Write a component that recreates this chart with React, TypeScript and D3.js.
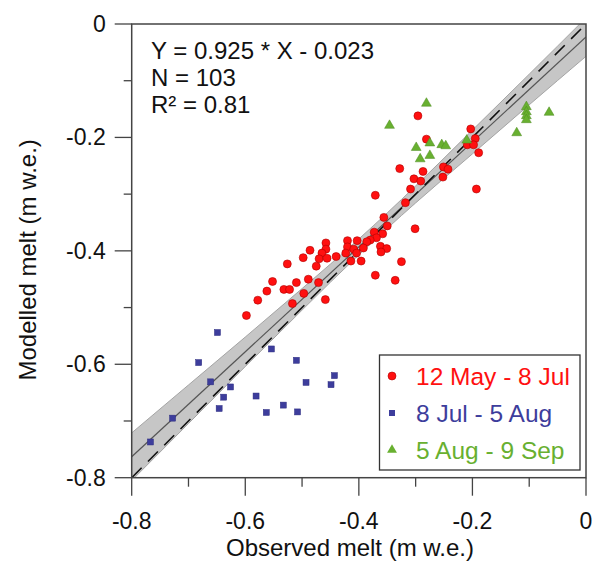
import React from "react";
import * as d3 from "d3";

// ---- data ----
const periodLabels = ["12 May - 8 Jul", "8 Jul - 5 Aug", "5 Aug - 9 Sep"];

const redX = [-0.296,-0.281,-0.203,-0.195,-0.209,-0.198,-0.189,-0.193,-0.328,-0.287,-0.303,-0.291,-0.251,-0.243,-0.252,-0.309,-0.318,-0.371,-0.301,-0.356,-0.350,-0.373,-0.358,-0.369,-0.380,-0.386,-0.362,-0.351,-0.361,-0.325,-0.336,-0.371,-0.403,-0.420,-0.420,-0.409,-0.404,-0.423,-0.414,-0.396,-0.392,-0.440,-0.458,-0.458,-0.465,-0.470,-0.456,-0.486,-0.498,-0.526,-0.475,-0.552,-0.562,-0.532,-0.522,-0.510,-0.489,-0.471,-0.497,-0.517,-0.459,-0.578,-0.598];
const redY = [-0.162,-0.203,-0.185,-0.202,-0.213,-0.213,-0.227,-0.291,-0.255,-0.260,-0.273,-0.277,-0.252,-0.256,-0.270,-0.291,-0.315,-0.302,-0.361,-0.341,-0.356,-0.367,-0.370,-0.377,-0.381,-0.384,-0.392,-0.396,-0.402,-0.419,-0.452,-0.443,-0.382,-0.382,-0.393,-0.397,-0.404,-0.404,-0.418,-0.418,-0.395,-0.410,-0.386,-0.397,-0.404,-0.414,-0.413,-0.399,-0.412,-0.423,-0.427,-0.454,-0.471,-0.468,-0.468,-0.456,-0.450,-0.456,-0.475,-0.493,-0.486,-0.487,-0.514];

const blueX = [-0.767,-0.728,-0.682,-0.649,-0.661,-0.646,-0.638,-0.626,-0.581,-0.563,-0.554,-0.533,-0.510,-0.508,-0.493,-0.449,-0.443];
const blueY = [-0.737,-0.695,-0.597,-0.544,-0.631,-0.678,-0.658,-0.640,-0.656,-0.685,-0.573,-0.672,-0.593,-0.684,-0.632,-0.636,-0.620];

const greenX = [-0.346,-0.281,-0.299,-0.292,-0.275,-0.275,-0.254,-0.247,-0.210,-0.122,-0.105,-0.105,-0.105,-0.105,-0.065];
const greenY = [-0.179,-0.140,-0.218,-0.238,-0.210,-0.232,-0.213,-0.215,-0.205,-0.192,-0.146,-0.155,-0.162,-0.169,-0.156];

const fitSlope = 0.925;
const fitIntercept = -0.023;
const bandX = [-0.8, -0.7, -0.6, -0.5, -0.4, -0.3, -0.2, -0.1, 0];
const bandHalf = [0.042, 0.034, 0.026, 0.019, 0.014, 0.015, 0.021, 0.027, 0.034];

const majorTicks = [-0.8, -0.6, -0.4, -0.2, 0];
const minorTicks = [-0.7, -0.5, -0.3, -0.1];
const tickLabels = ["-0.8", "-0.6", "-0.4", "-0.2", "0"];

const statLines = ["Y = 0.925 * X - 0.023", "N = 103", "R² = 0.81"];

const RED = "#ff1010";
const BLUE = "#3d3d9c";
const GREEN = "#68b030";
const FONT = "'Liberation Sans', Arial, Helvetica, sans-serif";

export default function App() {
  const W = 593, H = 564;
  const x = d3.scaleLinear().domain([-0.8, 0]).range([131.7, 586]);
  const y = d3.scaleLinear().domain([-0.8, 0]).range([477.7, 24]);

  const fit = (v: number) => fitSlope * v + fitIntercept;
  const bandArea = d3
    .area<number>()
    .x((_, i) => x(bandX[i]))
    .y0((v, i) => y(fit(bandX[i]) - bandHalf[i]))
    .y1((v, i) => y(fit(bandX[i]) + bandHalf[i]))
    .curve(d3.curveNatural);
  const bandUpper = d3.line<number>().x((_, i) => x(bandX[i])).y((_, i) => y(fit(bandX[i]) + bandHalf[i])).curve(d3.curveNatural);
  const bandLower = d3.line<number>().x((_, i) => x(bandX[i])).y((_, i) => y(fit(bandX[i]) - bandHalf[i])).curve(d3.curveNatural);

  const tri = d3.symbol().type(d3.symbolTriangle).size(42)() as string;
  const sq = 6;

  const fs = 23;
  const fsT = 24;
  const fsL = 24.5;
  const [x0, x1] = x.range();
  const [yB, yT] = y.range();

  return (
    <svg width={W} height={H} style={{ position: "absolute", left: 0, top: 0, background: "#fff" }} fontFamily={FONT}>
      <defs>
        <clipPath id="plot">
          <rect x={x0} y={yT} width={x1 - x0} height={yB - yT} />
        </clipPath>
      </defs>
      <g clipPath="url(#plot)">
        <path d={bandArea(bandX) as string} fill="#c6c6c6" />
        <path d={bandUpper(bandX) as string} fill="none" stroke="#a4a4a4" strokeWidth={1} />
        <path d={bandLower(bandX) as string} fill="none" stroke="#a4a4a4" strokeWidth={1} />
        <line x1={x(-0.8)} y1={y(fit(-0.8))} x2={x(0)} y2={y(fit(0))} stroke="#555" strokeWidth={1.2} />
        <line x1={x(-0.8)} y1={y(-0.8)} x2={x(0)} y2={y(0)} stroke="#111" strokeWidth={1.6} strokeDasharray="14,9" />
      </g>

      {blueX.map((v, i) => (
        <rect key={"b" + i} x={x(v) - sq / 2} y={y(blueY[i]) - sq / 2} width={sq} height={sq} fill={BLUE} stroke="#2c2c80" strokeWidth={0.5} />
      ))}
      {redX.map((v, i) => (
        <circle key={"r" + i} cx={x(v)} cy={y(redY[i])} r={4} fill={RED} stroke="#b00000" strokeWidth={0.6} />
      ))}
      {greenX.map((v, i) => (
        <path key={"g" + i} d={tri} transform={`translate(${x(v)},${y(greenY[i])})`} fill={GREEN} stroke="#4e8a20" strokeWidth={0.5} />
      ))}

      {/* frame */}
      <rect x={x0} y={yT} width={x1 - x0} height={yB - yT} fill="none" stroke="#444" strokeWidth={1.5} />

      {/* x ticks */}
      {majorTicks.map((t, i) => (
        <g key={"xt" + i}>
          <line x1={x(t)} x2={x(t)} y1={yB} y2={yB + 18} stroke="#444" strokeWidth={1.3} />
          <text x={x(t)} y={yB + 51} textAnchor="middle" fontSize={fs} fill="#111">{tickLabels[i]}</text>
        </g>
      ))}
      {minorTicks.map((t, i) => (
        <line key={"xm" + i} x1={x(t)} x2={x(t)} y1={yB} y2={yB + 9} stroke="#444" strokeWidth={1.3} />
      ))}
      {/* y ticks */}
      {majorTicks.map((t, i) => (
        <g key={"yt" + i}>
          <line x1={x0 - 17} x2={x0} y1={y(t)} y2={y(t)} stroke="#444" strokeWidth={1.3} />
          <text x={x0 - 26} y={y(t) + 8} textAnchor="end" fontSize={fs} fill="#111">{tickLabels[i]}</text>
        </g>
      ))}
      {minorTicks.map((t, i) => (
        <line key={"ym" + i} x1={x0 - 8} x2={x0} y1={y(t)} y2={y(t)} stroke="#444" strokeWidth={1.3} />
      ))}

      <text x={350} y={556} textAnchor="middle" fontSize={fsT} fill="#111">Observed melt (m w.e.)</text>
      <text transform={`translate(36,${(yT + yB) / 2 + 9}) rotate(-90)`} textAnchor="middle" fontSize={fsT} fill="#111">Modelled melt (m w.e.)</text>

      {statLines.map((s, i) => (
        <text key={"s" + i} x={151} y={59 + i * 27} fontSize={fsT} fill="#111">{s}</text>
      ))}

      {/* legend */}
      <rect x={379.5} y={355} width={200.5} height={115} fill="#fff" stroke="#333" strokeWidth={1.3} />
      {[RED, BLUE, GREEN].map((c, i) => {
        const cy = 376 + i * 37;
        return (
          <g key={"l" + i}>
            {i === 0 && <circle cx={392} cy={cy} r={4} fill={RED} stroke="#b00000" strokeWidth={0.6} />}
            {i === 1 && <rect x={392 - 3} y={cy - 3} width={6} height={6} fill={BLUE} />}
            {i === 2 && <path d={tri} transform={`translate(392,${cy})`} fill={GREEN} />}
            <text x={416} y={cy + 8.5} fontSize={fsL} fill={c}>{periodLabels[i]}</text>
          </g>
        );
      })}
    </svg>
  );
}
